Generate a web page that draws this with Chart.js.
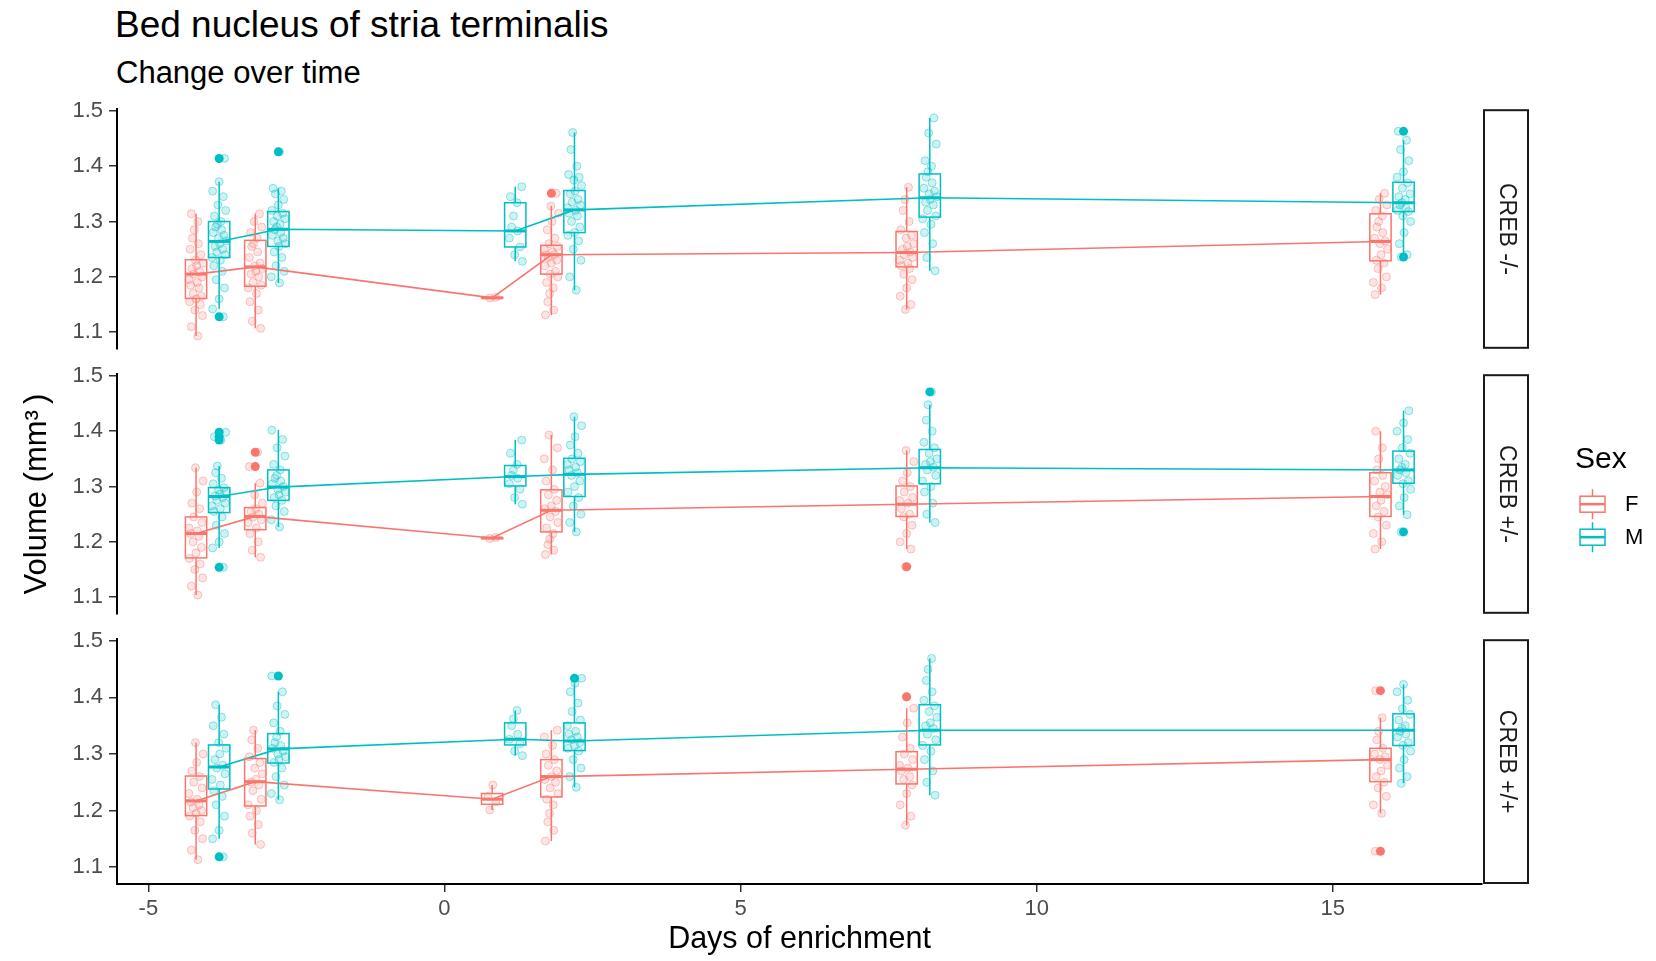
<!DOCTYPE html>
<html>
<head>
<meta charset="utf-8">
<script src="https://cdn.jsdelivr.net/npm/chart.js@4.4.1/dist/chart.umd.min.js"></script>
<style>
  body { margin: 0; background: #fff; width: 1656px; height: 961px; position: relative; overflow: hidden;
         font-family: 'Liberation Sans', Arial, sans-serif; }
  .panel { position: absolute; left: 0; width: 1656px; }
  #title { position: absolute; left: 115px; top: 6px; font-size: 37px; line-height: 37px; color: #000; white-space: nowrap; }
  #subtitle { position: absolute; left: 116px; top: 57px; font-size: 31px; line-height: 31px; color: #000; white-space: nowrap; }
</style>
</head>
<body>
<div id="title">Bed nucleus of stria terminalis</div>
<div id="subtitle">Change over time</div>
<div class="panel" style="top:90px;height:278px"><canvas id="c0" width="1656" height="278"></canvas></div>
<div class="panel" style="top:355px;height:278px"><canvas id="c1" width="1656" height="278"></canvas></div>
<div class="panel" style="top:620px;height:341px"><canvas id="c2" width="1656" height="341"></canvas></div>
<script>
const days = [-4, -3, 1, 2, 8, 16];
const sexes = ['F', 'M'];
const genotypes = ['CREB -/-', 'CREB +/-', 'CREB +/+'];
const xTicks = [-5, 0, 5, 10, 15];
const yTicks = [1.1, 1.2, 1.3, 1.4, 1.5];

// box stats per day: [lower whisker, Q1, median, Q3, upper whisker]
const koBoxF = [[1.093, 1.161, 1.205, 1.231, 1.314], [1.107, 1.183, 1.218, 1.266, 1.314], [1.162, 1.162, 1.162, 1.163, 1.163],
                [1.131, 1.205, 1.240, 1.257, 1.328], [1.141, 1.218, 1.244, 1.282, 1.362], [1.168, 1.229, 1.264, 1.314, 1.351]];
const koBoxM = [[1.142, 1.235, 1.264, 1.300, 1.372], [1.189, 1.255, 1.286, 1.318, 1.360], [1.228, 1.254, 1.283, 1.334, 1.363],
                [1.176, 1.280, 1.321, 1.356, 1.461], [1.211, 1.308, 1.343, 1.386, 1.487], [1.240, 1.318, 1.334, 1.371, 1.447]];
const hetBoxF = [[1.104, 1.171, 1.215, 1.245, 1.334], [1.172, 1.222, 1.246, 1.262, 1.306], [1.206, 1.206, 1.207, 1.207, 1.208],
                 [1.177, 1.218, 1.257, 1.294, 1.393], [1.187, 1.246, 1.268, 1.301, 1.365], [1.187, 1.246, 1.282, 1.325, 1.400]];
const hetBoxM = [[1.189, 1.253, 1.282, 1.298, 1.337], [1.227, 1.275, 1.299, 1.330, 1.402], [1.268, 1.301, 1.318, 1.338, 1.384],
                 [1.218, 1.282, 1.322, 1.351, 1.426], [1.235, 1.305, 1.334, 1.367, 1.448], [1.249, 1.306, 1.330, 1.364, 1.437]];
const wtBoxF = [[1.113, 1.191, 1.217, 1.261, 1.320], [1.140, 1.208, 1.251, 1.292, 1.342], [1.201, 1.211, 1.220, 1.230, 1.245],
                [1.146, 1.224, 1.260, 1.290, 1.342], [1.174, 1.247, 1.273, 1.304, 1.381], [1.195, 1.251, 1.290, 1.310, 1.364]];
const wtBoxM = [[1.150, 1.238, 1.277, 1.316, 1.387], [1.219, 1.284, 1.309, 1.336, 1.410], [1.297, 1.316, 1.326, 1.355, 1.377],
                [1.241, 1.306, 1.323, 1.355, 1.425], [1.227, 1.316, 1.342, 1.387, 1.469], [1.248, 1.315, 1.342, 1.371, 1.423]];

// outliers per day
const koOutF = [[], [], [], [1.351], [], []];
const koOutM = [[1.414, 1.128], [1.426], [], [], [], [1.463, 1.236]];
const hetOutF = [[], [1.362, 1.336], [], [], [1.155], []];
const hetOutM = [[1.398, 1.390, 1.384, 1.154], [], [], [], [1.471], [1.218]];
const wtOutF = [[], [], [], [], [1.401], [1.412, 1.128]];
const wtOutM = [[1.118], [1.438], [], [1.434], [], []];

// individual animals per day
const koPtsF = [
  [1.093, 1.11, 1.13, 1.14, 1.15, 1.155, 1.16, 1.165, 1.17, 1.18, 1.185, 1.19, 1.195, 1.2, 1.205, 1.21, 1.215, 1.22, 1.225, 1.23, 1.24, 1.25, 1.26, 1.27, 1.285, 1.3, 1.314],
  [1.107, 1.12, 1.14, 1.155, 1.17, 1.18, 1.185, 1.19, 1.2, 1.205, 1.21, 1.215, 1.22, 1.225, 1.235, 1.245, 1.255, 1.26, 1.27, 1.28, 1.29, 1.3, 1.314],
  [1.162, 1.163],
  [1.131, 1.14, 1.155, 1.17, 1.18, 1.19, 1.2, 1.205, 1.21, 1.22, 1.225, 1.23, 1.235, 1.24, 1.24, 1.245, 1.25, 1.255, 1.26, 1.27, 1.285, 1.3, 1.315, 1.328, 1.351],
  [1.141, 1.15, 1.165, 1.18, 1.195, 1.205, 1.215, 1.22, 1.225, 1.23, 1.235, 1.24, 1.245, 1.25, 1.255, 1.26, 1.27, 1.275, 1.285, 1.3, 1.32, 1.34, 1.362],
  [1.168, 1.18, 1.19, 1.2, 1.215, 1.225, 1.23, 1.24, 1.25, 1.26, 1.265, 1.27, 1.28, 1.29, 1.3, 1.31, 1.32, 1.33, 1.34, 1.351]
];
const koPtsM = [
  [1.128, 1.142, 1.16, 1.18, 1.195, 1.21, 1.22, 1.23, 1.235, 1.24, 1.245, 1.25, 1.255, 1.26, 1.265, 1.27, 1.275, 1.28, 1.285, 1.29, 1.295, 1.3, 1.31, 1.32, 1.33, 1.345, 1.355, 1.372, 1.414],
  [1.189, 1.2, 1.21, 1.22, 1.235, 1.245, 1.255, 1.26, 1.265, 1.27, 1.275, 1.28, 1.285, 1.29, 1.295, 1.3, 1.305, 1.31, 1.315, 1.32, 1.33, 1.34, 1.35, 1.355, 1.36, 1.426],
  [1.228, 1.24, 1.254, 1.27, 1.283, 1.29, 1.31, 1.334, 1.345, 1.363],
  [1.176, 1.2, 1.23, 1.25, 1.265, 1.275, 1.28, 1.29, 1.3, 1.31, 1.315, 1.32, 1.325, 1.33, 1.335, 1.34, 1.35, 1.355, 1.365, 1.375, 1.38, 1.385, 1.4, 1.43, 1.461],
  [1.211, 1.235, 1.26, 1.28, 1.295, 1.305, 1.31, 1.32, 1.33, 1.335, 1.34, 1.345, 1.35, 1.355, 1.36, 1.37, 1.38, 1.39, 1.4, 1.41, 1.44, 1.46, 1.487],
  [1.236, 1.24, 1.26, 1.28, 1.3, 1.31, 1.318, 1.32, 1.325, 1.33, 1.334, 1.34, 1.345, 1.35, 1.36, 1.37, 1.38, 1.39, 1.41, 1.43, 1.447, 1.463]
];
const hetPtsF = [
  [1.104, 1.12, 1.135, 1.15, 1.16, 1.17, 1.18, 1.19, 1.2, 1.21, 1.215, 1.22, 1.225, 1.235, 1.245, 1.26, 1.27, 1.29, 1.31, 1.334],
  [1.172, 1.185, 1.2, 1.215, 1.225, 1.235, 1.24, 1.245, 1.25, 1.255, 1.26, 1.27, 1.285, 1.306, 1.336, 1.362],
  [1.206, 1.208],
  [1.177, 1.185, 1.195, 1.205, 1.215, 1.225, 1.235, 1.245, 1.255, 1.26, 1.265, 1.275, 1.285, 1.295, 1.31, 1.33, 1.35, 1.37, 1.393],
  [1.155, 1.187, 1.2, 1.215, 1.23, 1.245, 1.25, 1.26, 1.27, 1.275, 1.28, 1.29, 1.3, 1.31, 1.325, 1.345, 1.365],
  [1.187, 1.2, 1.215, 1.23, 1.245, 1.255, 1.265, 1.275, 1.285, 1.29, 1.3, 1.31, 1.32, 1.33, 1.35, 1.37, 1.4]
];
const hetPtsM = [
  [1.154, 1.189, 1.2, 1.215, 1.23, 1.245, 1.255, 1.26, 1.265, 1.27, 1.275, 1.28, 1.283, 1.286, 1.29, 1.294, 1.298, 1.305, 1.315, 1.325, 1.337, 1.384, 1.39, 1.398],
  [1.227, 1.24, 1.255, 1.265, 1.275, 1.28, 1.285, 1.29, 1.295, 1.3, 1.305, 1.31, 1.315, 1.32, 1.33, 1.34, 1.355, 1.37, 1.385, 1.402],
  [1.268, 1.28, 1.295, 1.305, 1.315, 1.32, 1.33, 1.34, 1.36, 1.384],
  [1.218, 1.235, 1.25, 1.265, 1.28, 1.29, 1.3, 1.31, 1.32, 1.325, 1.33, 1.335, 1.34, 1.345, 1.35, 1.36, 1.375, 1.39, 1.41, 1.426],
  [1.235, 1.25, 1.27, 1.29, 1.3, 1.31, 1.32, 1.33, 1.335, 1.34, 1.345, 1.35, 1.36, 1.37, 1.38, 1.4, 1.42, 1.448, 1.471],
  [1.218, 1.249, 1.265, 1.28, 1.295, 1.305, 1.31, 1.32, 1.325, 1.33, 1.335, 1.34, 1.35, 1.36, 1.37, 1.385, 1.4, 1.415, 1.437]
];
const wtPtsF = [
  [1.113, 1.13, 1.15, 1.165, 1.18, 1.19, 1.195, 1.2, 1.205, 1.21, 1.215, 1.22, 1.23, 1.24, 1.25, 1.26, 1.27, 1.285, 1.3, 1.32],
  [1.14, 1.16, 1.175, 1.19, 1.2, 1.21, 1.22, 1.235, 1.245, 1.25, 1.255, 1.265, 1.275, 1.285, 1.295, 1.31, 1.325, 1.342],
  [1.201, 1.215, 1.225, 1.245],
  [1.146, 1.165, 1.18, 1.195, 1.21, 1.22, 1.23, 1.24, 1.25, 1.255, 1.26, 1.27, 1.28, 1.29, 1.3, 1.315, 1.33, 1.342],
  [1.174, 1.19, 1.21, 1.23, 1.245, 1.255, 1.26, 1.27, 1.275, 1.28, 1.29, 1.3, 1.31, 1.33, 1.355, 1.381, 1.401],
  [1.128, 1.195, 1.21, 1.225, 1.24, 1.25, 1.26, 1.27, 1.28, 1.29, 1.295, 1.3, 1.31, 1.325, 1.34, 1.364, 1.412]
];
const wtPtsM = [
  [1.118, 1.15, 1.165, 1.19, 1.21, 1.225, 1.235, 1.245, 1.255, 1.265, 1.275, 1.28, 1.29, 1.3, 1.31, 1.32, 1.335, 1.35, 1.365, 1.387],
  [1.219, 1.23, 1.245, 1.26, 1.275, 1.285, 1.29, 1.295, 1.3, 1.305, 1.31, 1.315, 1.32, 1.33, 1.34, 1.355, 1.37, 1.385, 1.41, 1.438],
  [1.297, 1.305, 1.318, 1.326, 1.335, 1.35, 1.362, 1.377],
  [1.241, 1.26, 1.275, 1.29, 1.305, 1.31, 1.315, 1.32, 1.325, 1.33, 1.335, 1.34, 1.35, 1.36, 1.375, 1.39, 1.41, 1.425, 1.434],
  [1.227, 1.25, 1.27, 1.29, 1.305, 1.315, 1.325, 1.335, 1.345, 1.35, 1.355, 1.365, 1.375, 1.385, 1.395, 1.41, 1.43, 1.45, 1.469],
  [1.248, 1.26, 1.275, 1.29, 1.305, 1.315, 1.32, 1.33, 1.335, 1.34, 1.345, 1.35, 1.36, 1.37, 1.38, 1.395, 1.41, 1.423]
];

// ---- style ----
const FONT = "'Liberation Sans', Arial, sans-serif";
const COLORS = ['#F8766D', '#00BFC4'];
const FILLS = ['rgba(248,118,109,0.2)', 'rgba(0,191,196,0.2)'];
const EDGES = ['rgba(248,118,109,0.4)', 'rgba(0,191,196,0.4)'];
const DODGE = [-0.195, 0.195];
const BOX_HALF = 0.18;
const JITTER = [0.03, -0.08, 0.11, -0.02, 0.07, -0.11, 0.0, 0.09, -0.05, 0.05, -0.09, 0.02, -0.12,
                0.1, -0.04, 0.06, -0.07, 0.01, 0.12, -0.01, 0.08, -0.1, 0.04, -0.06, -0.03];

Chart.defaults.font.family = FONT;

const panels = [
  { label: genotypes[0], box: [koBoxF, koBoxM], out: [koOutF, koOutM], pts: [koPtsF, koPtsM] },
  { label: genotypes[1], box: [hetBoxF, hetBoxM], out: [hetOutF, hetOutM], pts: [hetPtsF, hetPtsM] },
  { label: genotypes[2], box: [wtBoxF, wtBoxM], out: [wtOutF, wtOutM], pts: [wtPtsF, wtPtsM] }
];

function jittered(pts, s) {
  const out = [];
  pts.forEach((vals, d) => {
    vals.forEach((v, i) => {
      out.push({ x: days[d] + DODGE[s] + JITTER[(i + d * 7 + s * 4) % JITTER.length], y: v });
    });
  });
  return out;
}

function outlierPoints(outs, s) {
  const out = [];
  outs.forEach((vals, d) => vals.forEach(v => out.push({ x: days[d] + DODGE[s], y: v })));
  return out;
}

function drawKey(ctx, cx, cy, color) {
  ctx.strokeStyle = color;
  ctx.lineWidth = 1.5;
  ctx.beginPath();
  ctx.moveTo(cx, cy - 15); ctx.lineTo(cx, cy - 8);
  ctx.moveTo(cx, cy + 8); ctx.lineTo(cx, cy + 15);
  ctx.stroke();
  ctx.strokeRect(cx - 12.5, cy - 8, 25, 16);
  ctx.lineWidth = 2.5;
  ctx.beginPath();
  ctx.moveTo(cx - 12.5, cy); ctx.lineTo(cx + 12.5, cy);
  ctx.stroke();
}

function decorPlugin(p, withLegend) {
  return {
    id: 'decor',
    afterDatasetsDraw(chart) {
      const { ctx, scales: { x, y } } = chart;
      ctx.save();
      p.box.forEach((boxes, s) => {
        boxes.forEach((b, i) => {
          const cx = x.getPixelForValue(days[i] + DODGE[s]);
          const x0 = x.getPixelForValue(days[i] + DODGE[s] - BOX_HALF);
          const x1 = x.getPixelForValue(days[i] + DODGE[s] + BOX_HALF);
          const [lo, q1, med, q3, hi] = b.map(v => y.getPixelForValue(v));
          ctx.strokeStyle = COLORS[s];
          ctx.lineWidth = 1.5;
          ctx.beginPath();
          ctx.moveTo(cx, hi); ctx.lineTo(cx, q3);
          ctx.moveTo(cx, q1); ctx.lineTo(cx, lo);
          ctx.stroke();
          ctx.strokeRect(x0, q3, x1 - x0, q1 - q3);
          ctx.lineWidth = 3;
          ctx.beginPath();
          ctx.moveTo(x0, med); ctx.lineTo(x1, med);
          ctx.stroke();
        });
      });
      ctx.restore();
    },
    afterDraw(chart) {
      const { ctx, chartArea: a } = chart;
      ctx.save();
      // facet strip
      ctx.strokeStyle = '#1a1a1a';
      ctx.lineWidth = 2;
      ctx.strokeRect(a.right + 2, a.top + 1, 44, a.bottom - a.top - 2);
      ctx.translate(a.right + 24, (a.top + a.bottom) / 2);
      ctx.rotate(Math.PI / 2);
      ctx.fillStyle = '#1a1a1a';
      ctx.font = '23px ' + FONT;
      ctx.textAlign = 'center';
      ctx.textBaseline = 'middle';
      ctx.fillText(p.label, 0, 0);
      ctx.restore();

      if (withLegend) {
        ctx.save();
        ctx.fillStyle = '#000';
        ctx.font = '30px ' + FONT;
        ctx.textBaseline = 'alphabetic';
        ctx.fillText('Sex', a.right + 93, a.top + 94);
        ctx.font = '22px ' + FONT;
        ctx.textBaseline = 'middle';
        sexes.forEach((sx, s) => {
          const cy = a.top + 130 + s * 33;
          drawKey(ctx, a.right + 110.5, cy, COLORS[s]);
          ctx.fillStyle = '#000';
          ctx.fillText(sx, a.right + 143, cy + 1);
        });
        ctx.restore();
      }
    }
  };
}

function makeChart(id, p, idx) {
  const isBottom = idx === 2;
  const isMiddle = idx === 1;
  const tickGrid = { display: true, drawOnChartArea: false, drawTicks: true, tickLength: 8, color: '#333333', lineWidth: 1.5 };
  const datasets = [];
  sexes.forEach((sx, s) => {
    datasets.push({
      label: sx + ' median', data: days.map((d, i) => ({ x: d + DODGE[s], y: p.box[s][i][2] })),
      showLine: true, borderColor: COLORS[s], borderWidth: 1.6, pointRadius: 0, fill: false
    });
  });
  sexes.forEach((sx, s) => {
    datasets.push({
      label: sx + ' outliers', data: outlierPoints(p.out[s], s),
      pointRadius: 4.5, backgroundColor: COLORS[s], borderWidth: 0
    });
  });
  sexes.forEach((sx, s) => {
    datasets.push({
      label: sx, data: jittered(p.pts[s], s),
      pointRadius: 4, backgroundColor: FILLS[s], borderColor: EDGES[s], borderWidth: 1
    });
  });

  new Chart(document.getElementById(id), {
    type: 'scatter',
    data: { datasets },
    options: {
      responsive: false,
      animation: false,
      events: [],
      layout: { padding: { left: 0, right: 174, top: 15, bottom: isBottom ? 0 : 15 } },
      plugins: { legend: { display: false }, tooltip: { enabled: false } },
      scales: {
        x: {
          type: 'linear', min: -5.53, max: 17.52, display: isBottom,
          afterBuildTicks: s => { s.ticks = xTicks.map(v => ({ value: v })); },
          afterFit: s => { if (isBottom) s.height = 77; },
          grid: tickGrid,
          border: { display: true, color: '#000', width: 2 },
          ticks: { font: { size: 22 }, color: '#4d4d4d', padding: 4, maxRotation: 0, callback: v => String(v) },
          title: { display: true, text: 'Days of enrichment', color: '#000', font: { size: 30.5 }, padding: { top: 0, bottom: 3 } }
        },
        y: {
          min: 1.07, max: 1.503,
          afterBuildTicks: s => { s.ticks = yTicks.map(v => ({ value: v })); },
          afterFit: s => { s.width = 117; },
          grid: tickGrid,
          border: { display: true, color: '#000', width: 2 },
          ticks: { font: { size: 22 }, color: '#4d4d4d', padding: 6, callback: v => v.toFixed(1) },
          title: { display: isMiddle, text: 'Volume (mm³\u2009)', color: '#000', font: { size: 31 }, padding: { top: 19, bottom: 0 } }
        }
      }
    },
    plugins: [decorPlugin(p, isMiddle)]
  });
}

panels.forEach((p, i) => makeChart('c' + i, p, i));
</script>
</body>
</html>
